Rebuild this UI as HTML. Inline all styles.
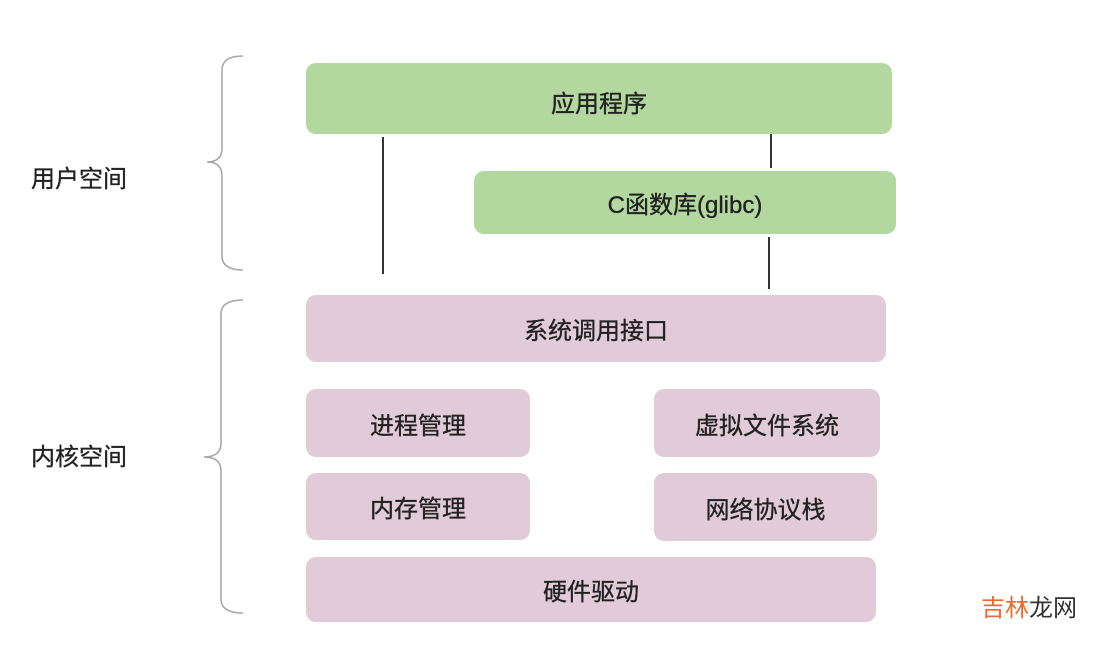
<!DOCTYPE html>
<html><head><meta charset="utf-8">
<style>
html,body{margin:0;padding:0;background:#fff;}
body{width:1117px;height:646px;position:relative;overflow:hidden;font-family:"Liberation Sans","Noto Sans CJK SC",sans-serif;color:#222;}
.b{position:absolute;display:flex;align-items:center;justify-content:center;border-radius:10px;font-size:24px;-webkit-text-stroke:0.35px #222;}
.g{background:#b2d89f;}
.p{background:#e2cbd9;}
.lbl{position:absolute;font-size:24px;color:#222;-webkit-text-stroke:0.3px #222;}
svg{position:absolute;left:0;top:0;}
</style></head><body>
<svg width="1117" height="646" viewBox="0 0 1117 646">
  <path d="M243,56 Q222,56 222,70 L222,148 Q222,162 207,162 Q222,162 222,176 L222,256 Q222,270 243,270" fill="none" stroke="#a8a8a8" stroke-width="1.6"/>
  <path d="M243,300 Q221,300 221,314 L221,443 Q221,457 204,457 Q221,457 221,471 L221,599 Q221,613 243,613" fill="none" stroke="#a8a8a8" stroke-width="1.6"/>
  <line x1="383" y1="137" x2="383" y2="274" stroke="#333" stroke-width="2"/>
  <line x1="771" y1="132" x2="771" y2="168" stroke="#333" stroke-width="2"/>
  <line x1="769" y1="237" x2="769" y2="289" stroke="#333" stroke-width="2"/>
</svg>
<div class="lbl" style="left:31px;top:159px;">用户空间</div>
<div class="lbl" style="left:31px;top:437px;">内核空间</div>

<div class="b g" style="left:306px;top:63px;width:586px;height:71px;padding-top:6px;box-sizing:border-box;">应用程序</div>
<div class="b g" style="left:474px;top:171px;width:422px;height:63px;">C函数库(glibc)</div>

<div class="b p" style="left:306px;top:295px;width:580px;height:67px;">系统调用接口</div>
<div class="b p" style="left:306px;top:389px;width:224px;height:68px;">进程管理</div>
<div class="b p" style="left:654px;top:389px;width:226px;height:68px;">虚拟文件系统</div>
<div class="b p" style="left:306px;top:473px;width:224px;height:67px;">内存管理</div>
<div class="b p" style="left:654px;top:473px;width:223px;height:68px;">网络协议栈</div>
<div class="b p" style="left:306px;top:557px;width:570px;height:65px;">硬件驱动</div>

<div style="position:absolute;left:981px;top:594px;font-size:24px;line-height:30px;"><span style="color:#ee6a2c;">吉林</span><span style="color:#333;">龙网</span></div>
</body></html>
